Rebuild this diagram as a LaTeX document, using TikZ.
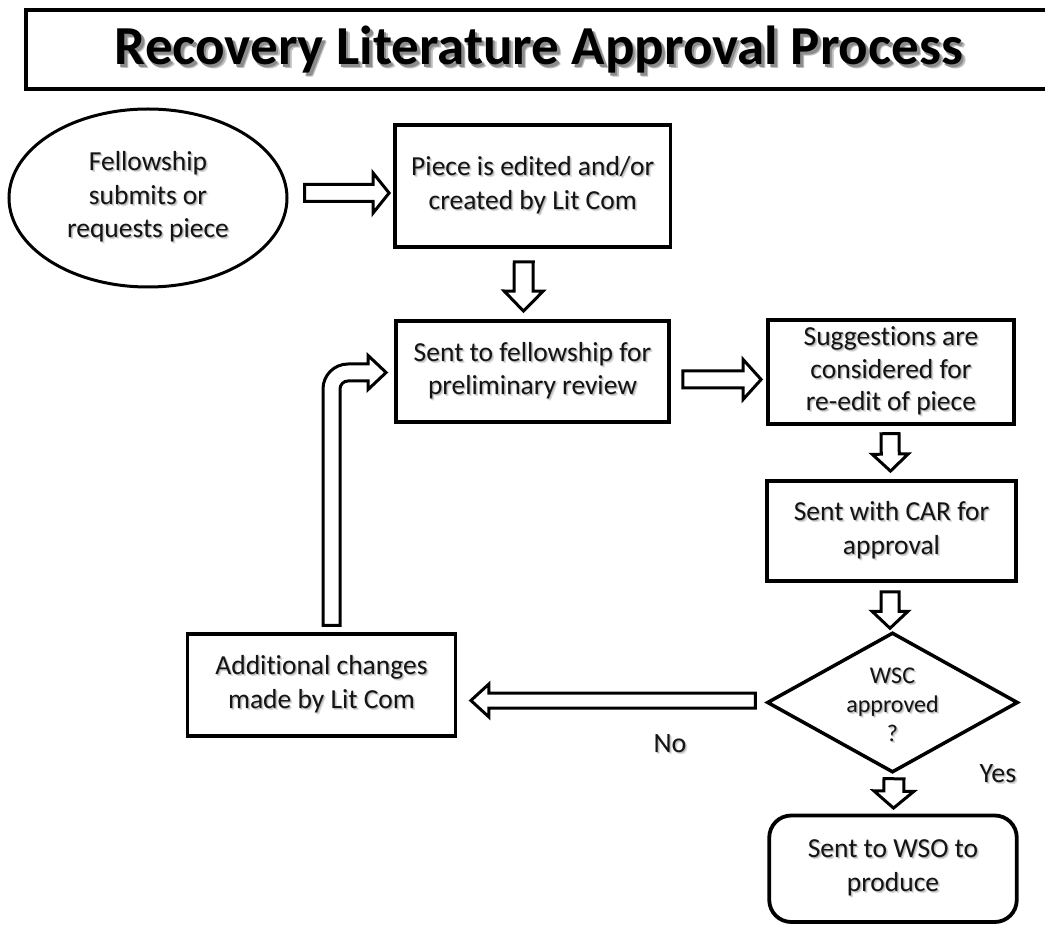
\documentclass[tikz,border=0pt]{standalone}
\usepackage{fontspec}
\setmainfont{Carlito}[Ligatures=NoCommon]
\usetikzlibrary{shapes.geometric,calc}
\definecolor{txt}{HTML}{141414}
\newcommand\sh[1]{\leavevmode\rlap{\hspace{2pt}\raisebox{-2pt}{\textcolor{black!14}{#1}}}\rlap{\hspace{1pt}\raisebox{-1pt}{\textcolor{black!28}{#1}}}#1}
\newcommand\tsh[1]{\leavevmode\rlap{\hspace{4pt}\raisebox{-4pt}{\textcolor{black!25}{#1}}}\rlap{\hspace{2.5pt}\raisebox{-2.5pt}{\textcolor{black!45}{#1}}}#1}
\newcommand\blockarrow[5]{%
  \path let \p1=($(#2)-(#1)$) in \pgfextra{%
    \pgfmathsetmacro\barlenL{veclen(\x1,\y1)}%
    \pgfmathsetmacro\barangL{atan2(\y1,\x1)}%
    \global\let\barlen\barlenL\global\let\barang\barangL};
  \begin{scope}[shift={(#1)}, rotate=\barang]
    \draw[blk] (0,-#3) -- ({\barlen-#5},-#3) -- ({\barlen-#5},-#4) -- (\barlen,0)
      -- ({\barlen-#5},#4) -- ({\barlen-#5},#3) -- (0,#3) -- cycle;
  \end{scope}}
\tikzset{
  box/.style={draw, line width=3.8pt, align=center, inner sep=0pt, text=txt,
    font=\fontsize{27.5}{33.5}\selectfont},
  blk/.style={draw, line width=3pt, fill=white, line join=miter},
  lbl/.style={inner sep=0pt, text=txt, font=\fontsize{28}{30}\selectfont},
}
\begin{document}
\begin{tikzpicture}[x=1pt, y=-1pt]
\useasboundingbox (0,0) rectangle (1045,925);
% title
\node[draw, line width=4pt, minimum width=1040pt, minimum height=79pt, inner sep=0pt] (tbox) at (546,50) {};
\node[inner sep=0pt, font=\fontsize{55}{60}\selectfont\bfseries] (title) at (539,52) {\tsh{Recovery Literature Approval Process}};
% shapes
\node[box, ellipse, line width=3pt, minimum width=278pt, minimum height=178pt] (ell) at (148,198)
  {\sh{Fellowship}\\\sh{submits or}\\\sh{requests piece}};
\node[box, minimum width=275.5pt, minimum height=122pt] (b1) at (532.75,186)
  {\sh{Piece is edited and/or}\\\sh{created by Lit Com}};
\node[box, minimum width=273pt, minimum height=101pt] (b2) at (532.5,371.5)
  {\sh{Sent to fellowship for}\\\sh{preliminary review}};
\node[box, minimum width=246pt, minimum height=103.5pt, font=\fontsize{27.5}{32.5}\selectfont] (b3) at (891,372)
  {\sh{Suggestions are}\\\sh{considered for}\\\sh{re-edit of piece}};
\node[box, minimum width=249pt, minimum height=100pt] (b4) at (891.5,531)
  {\sh{Sent with CAR for}\\\sh{approval}};
\node[draw, diamond, line width=3.5pt, inner sep=0pt, minimum width=251pt, minimum height=140pt] (d) at (892.5,702.5) {};
\node[align=center, inner sep=0pt, text=txt, font=\fontsize{24}{29}\selectfont] (dt) at (892.5,706)
  {\sh{WSC}\\\sh{approved}\\\sh{?}};
\node[box, rounded corners=22pt, minimum width=247.5pt, minimum height=106.5pt] (fin) at (893,868.75)
  {\sh{Sent to WSO to}\\\sh{produce}};
\node[box, minimum width=268pt, minimum height=101.5pt] (b5) at (321.5,685)
  {\sh{Additional changes}\\\sh{made by Lit Com}};
% labels
\node[lbl] (no) at (670,745) {\sh{No}};
\node[lbl] (yes) at (998,775) {\sh{Yes}};
% arrow end points
\coordinate (a1s) at ($(ell.east)+(16,-5)$);
\coordinate (a1e) at ($(b1.west)+(-4,7)$);
\coordinate (a2s) at ($(b1.south)+(-9,13)$);
\coordinate (a2e) at ($(b2.north)+(-9,-8)$);
\coordinate (a3s) at ($(b2.east)+(12,8)$);
\coordinate (a3e) at ($(b3.west)+(-5,7.5)$);
\coordinate (a4s) at ($(b3.south)+(-1,8)$);
\coordinate (a4e) at ($(b4.north)+(-1,-8)$);
\coordinate (a5s) at ($(b4.south)+(-1.5,9)$);
\coordinate (a5e) at ($(d.north)+(-2.5,-2.5)$);
\coordinate (a6s) at ($(d.south)+(1.5,4.5)$);
\coordinate (a6e) at ($(fin.north)+(0.5,-5.5)$);
\coordinate (a7s) at ($(d.west)+(-10,-2)$);
\coordinate (a7e) at ($(b5.east)+(13.5,15.5)$);
\coordinate (bs) at ($(b5.north)+(10,-7)$);
\coordinate (be) at ($(b2.west)+(-8,1)$);
% block arrows
\blockarrow{a1s}{a1e}{8.5}{20}{16}
\blockarrow{a2s}{a2e}{9.5}{19.5}{20}
\blockarrow{a3s}{a3e}{8.5}{20}{18}
\blockarrow{a4s}{a4e}{9}{18}{17}
\blockarrow{a5s}{a5e}{9}{18}{17}
\blockarrow{a6s}{a6e}{10}{20}{17}
\blockarrow{a7s}{a7e}{7.5}{16.5}{18}
% bent arrow
\draw[blk] let \p1=(bs), \p2=(be) in
  ({\x1-8.5pt},\y1) -- ({\x1-8.5pt},{\y2+8.5pt-25pt})
  arc[start angle=180, end angle=90, radius=25pt]
  -- ({\x2-18pt},{\y2+8.5pt}) -- ({\x2-18pt},{\y2+17pt}) -- (\x2,\y2)
  -- ({\x2-18pt},{\y2-17pt}) -- ({\x2-18pt},{\y2-8.5pt})
  -- ({\x1+16.5pt},{\y2-8.5pt})
  arc[start angle=90, end angle=180, radius=8pt]
  -- ({\x1+8.5pt},\y1) -- cycle;
\end{tikzpicture}
\end{document}
